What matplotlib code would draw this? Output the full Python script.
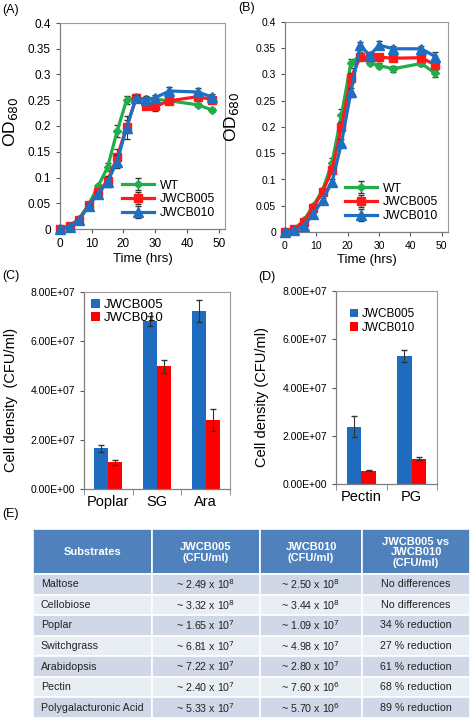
import matplotlib
matplotlib.use("Agg")
import matplotlib.pyplot as plt
import numpy as np
from matplotlib.patches import Rectangle
from matplotlib.ticker import FuncFormatter

plt.rcParams['font.family'] = ['Liberation Sans', 'DejaVu Sans']

# ---- growth curves (A: one substrate, B: another) ----
hours = [0, 3, 6, 9, 12, 15, 18, 21, 24, 27, 30, 34.5, 43.5, 48]

a_wt = [0, 0.006, 0.02, 0.047, 0.083, 0.12, 0.19, 0.251, 0.255, 0.252, 0.252, 0.249, 0.241, 0.231]
a_005 = [0, 0.006, 0.018, 0.046, 0.071, 0.094, 0.139, 0.199, 0.254, 0.239, 0.238, 0.249, 0.257, 0.251]
a_010 = [0, 0.004, 0.017, 0.045, 0.068, 0.092, 0.131, 0.197, 0.255, 0.251, 0.255, 0.268, 0.266, 0.256]
a_wt_err = [0, 0, 0.002, 0.003, 0.004, 0.008, 0.012, 0.008, 0.005, 0.004, 0.004, 0.004, 0.004, 0.004]
a_005_err = [0, 0, 0.002, 0.003, 0.005, 0.008, 0.016, 0.012, 0.008, 0.006, 0.009, 0.005, 0.006, 0.006]
a_010_err = [0, 0, 0.002, 0.003, 0.004, 0.01, 0.012, 0.022, 0.006, 0.007, 0.005, 0.007, 0.007, 0.007]

b_wt = [0, 0.006, 0.022, 0.05, 0.08, 0.132, 0.223, 0.321, 0.337, 0.322, 0.317, 0.311, 0.321, 0.302]
b_005 = [0, 0.006, 0.02, 0.046, 0.077, 0.118, 0.2, 0.293, 0.333, 0.333, 0.333, 0.331, 0.332, 0.318]
b_010 = [0, 0.003, 0.012, 0.034, 0.061, 0.095, 0.169, 0.266, 0.356, 0.336, 0.356, 0.349, 0.349, 0.334]
b_wt_err = [0, 0, 0.002, 0.003, 0.004, 0.008, 0.012, 0.008, 0.005, 0.004, 0.004, 0.006, 0.005, 0.006]
b_005_err = [0, 0, 0.002, 0.003, 0.004, 0.006, 0.01, 0.01, 0.006, 0.005, 0.005, 0.005, 0.005, 0.006]
b_010_err = [0, 0, 0.002, 0.003, 0.004, 0.006, 0.008, 0.008, 0.006, 0.006, 0.008, 0.005, 0.005, 0.008]

# ---- cell density bars ----
c_cats = ['Poplar', 'SG', 'Ara']
c_005 = [1.65e7, 6.81e7, 7.22e7]
c_010 = [1.09e7, 4.98e7, 2.80e7]
c_005_err = [0.15e7, 0.2e7, 0.45e7]
c_010_err = [0.1e7, 0.25e7, 0.45e7]

d_cats = ['Pectin', 'PG']
d_005 = [2.38e7, 5.3e7]
d_010 = [0.54e7, 1.05e7]
d_005_err = [0.42e7, 0.25e7]
d_010_err = [0.02e7, 0.05e7]

# ---- table ----
substrates = ['Maltose', 'Cellobiose', 'Poplar', 'Switchgrass', 'Arabidopsis',
              'Pectin', 'Polygalacturonic Acid']
jw005_mant = ['2.49', '3.32', '1.65', '6.81', '7.22', '2.40', '5.33']
jw005_exp = [8, 8, 7, 7, 7, 7, 7]
jw010_mant = ['2.50', '3.44', '1.09', '4.98', '2.80', '7.60', '5.70']
jw010_exp = [8, 8, 7, 7, 7, 6, 6]
comparison = ['No differences', 'No differences', '34 % reduction', '27 % reduction',
              '61 % reduction', '68 % reduction', '89 % reduction']
headers = ['Substrates', 'JWCB005\n(CFU/ml)', 'JWCB010\n(CFU/ml)',
           'JWCB005 vs\nJWCB010\n(CFU/ml)']

GREEN = '#1fae4a'
RED = '#ff1a1a'
BLUE = '#1f6fc0'
BAR_BLUE = '#1f6bbf'
BAR_RED = '#ff0000'

W, H = 472, 720
fig = plt.figure(figsize=(W / 100, H / 100), dpi=100)


def frac(l, t, r, b):
    return [l / W, 1 - b / H, (r - l) / W, (b - t) / H]


def style_box(ax):
    for s in ['top', 'right']:
        ax.spines[s].set_color('#9a9a9a')
        ax.spines[s].set_linewidth(0.8)
    for s in ['left', 'bottom']:
        ax.spines[s].set_color('#7f7f7f')
        ax.spines[s].set_linewidth(0.9)
    ax.tick_params(colors='#555555', width=0.8, length=3, labelcolor='black')


def growth(ax, wt, s005, s010, e_wt, e005, e010, tick_fs):
    series = [(wt, e_wt, GREEN, 'D', 3.8, 'WT'),
              (s005, e005, RED, 's', 6.2, 'JWCB005'),
              (s010, e010, BLUE, '^', 6.5, 'JWCB010')]
    for k, (vals, err, col, mk, ms, lab) in enumerate(series):
        cont = ax.errorbar(hours, vals, yerr=err, color=col, marker=mk, ms=ms, lw=2.3,
                           ecolor='#333333', elinewidth=0.8, capsize=2, label=lab,
                           zorder=3 + k)
        for art in cont.get_children():
            art.set_clip_on(False)
    ax.set_xlim(0, 52)
    ax.set_ylim(0, 0.4)
    ax.set_xticks(range(0, 51, 10))
    ax.set_yticks(np.arange(0, 0.401, 0.05))
    ax.yaxis.set_major_formatter(FuncFormatter(lambda v, p: '%g' % round(v, 2)))
    ax.tick_params(labelsize=tick_fs)
    style_box(ax)
    ax.set_xlabel('Time (hrs)', fontsize=9.5, labelpad=2)
    ax.set_ylabel('OD$_{680}$', fontsize=12.5, labelpad=4)
    ax.legend(loc='lower right', fontsize=8.8, frameon=False, handlelength=2.6,
              handletextpad=0.5, labelspacing=0.15, borderaxespad=0.4)


axA = fig.add_axes(frac(60, 23, 225, 229))
growth(axA, a_wt, a_005, a_010, a_wt_err, a_005_err, a_010_err, 8.5)
axA.yaxis.set_label_coords(-0.24, 0.52)

axB = fig.add_axes(frac(285, 22, 448, 232))
growth(axB, b_wt, b_005, b_010, b_wt_err, b_005_err, b_010_err, 7.5)
axB.yaxis.set_label_coords(-0.27, 0.55)


def sci(v, p):
    if v <= 0:
        return '0.00E+00'
    e = int(np.floor(np.log10(v)))
    return '%.2fE+%02d' % (v / 10 ** e, e)


def bars(ax, cats, s005, s010, e005, e010, leg_fs, leg_anchor):
    x = np.arange(len(cats))
    w = 0.29
    ax.bar(x - w / 2, s005, w, color=BAR_BLUE, label='JWCB005',
           yerr=e005, error_kw=dict(ecolor='#333333', elinewidth=0.8, capsize=2))
    ax.bar(x + w / 2, s010, w, color=BAR_RED, label='JWCB010',
           yerr=e010, error_kw=dict(ecolor='#333333', elinewidth=0.8, capsize=2))
    ax.set_xlim(-0.5, len(cats) - 0.5)
    ax.set_ylim(0, 8e7)
    ax.set_yticks(np.arange(0, 8.01e7, 2e7))
    ax.yaxis.set_major_formatter(FuncFormatter(sci))
    ax.set_xticks(x)
    ax.set_xticklabels(cats, fontsize=10.5)
    ax.set_xticks(np.arange(-0.5, len(cats), 1), minor=True)
    style_box(ax)
    ax.tick_params(axis='x', which='major', length=0, pad=4)
    ax.tick_params(axis='x', which='minor', length=4, color='#7f7f7f')
    ax.tick_params(axis='y', labelsize=7.5)
    ax.legend(loc='upper left', bbox_to_anchor=leg_anchor, fontsize=leg_fs, frameon=False,
              handlelength=0.7, handleheight=0.7, handletextpad=0.3, labelspacing=0.1,
              borderaxespad=0.1)


axC = fig.add_axes(frac(84, 292, 230, 489))
bars(axC, c_cats, c_005, c_010, c_005_err, c_010_err, 9.5, (0.0, 1.0))
axC.set_ylabel('Cell density  (CFU/ml)', fontsize=10.5)
axC.yaxis.set_label_coords(-0.455, 0.45)

axD = fig.add_axes(frac(336, 291, 437, 484))
bars(axD, d_cats, d_005, d_010, d_005_err, d_010_err, 8.5, (0.08, 0.94))
axD.set_ylabel('Cell density (CFU/ml)', fontsize=10.5)
axD.yaxis.set_label_coords(-0.66, 0.45)

# panel letters
fig.text(2 / W, 1 - 10 / H, '(A)', fontsize=9, va='center')
fig.text(238 / W, 1 - 8 / H, '(B)', fontsize=9, va='center')
fig.text(2 / W, 1 - 276 / H, '(C)', fontsize=9, va='center')
fig.text(258 / W, 1 - 277 / H, '(D)', fontsize=9, va='center')
fig.text(2 / W, 1 - 514 / H, '(E)', fontsize=9, va='center')

# ---- table (E) ----
tax = fig.add_axes(frac(33, 529, 470, 718))
tax.set_xlim(0, 1)
tax.set_ylim(1, 0)
tax.axis('off')
col_edges = np.array([0, 119, 227, 329, 437]) / 437
head_h = 45 / 189
row_h = (1 - head_h) / len(substrates)
row_colors = ['#d0d8e8', '#e9edf4']

for j, h in enumerate(headers):
    x0, x1 = col_edges[j], col_edges[j + 1]
    tax.add_patch(Rectangle((x0, 0), x1 - x0, head_h, facecolor='#4f81bd',
                            edgecolor='white', lw=1.2))
    tax.text((x0 + x1) / 2, head_h / 2 + 0.005, h, ha='center', va='center',
             color='white', fontsize=8, fontweight='bold', linespacing=1.1)

for i, sub in enumerate(substrates):
    y0 = head_h + i * row_h
    cells = [sub,
             '~ %s x 10$^{%d}$' % (jw005_mant[i], jw005_exp[i]),
             '~ %s x 10$^{%d}$' % (jw010_mant[i], jw010_exp[i]),
             comparison[i]]
    for j, c in enumerate(cells):
        x0, x1 = col_edges[j], col_edges[j + 1]
        tax.add_patch(Rectangle((x0, y0), x1 - x0, row_h, facecolor=row_colors[i % 2],
                                edgecolor='white', lw=1.2))
        if j == 0:
            tax.text(x0 + 0.018, y0 + row_h / 2, c, ha='left', va='center',
                     fontsize=7.7, color='#222222')
        else:
            tax.text((x0 + x1) / 2, y0 + row_h / 2, c, ha='center', va='center',
                     fontsize=7.7, color='#222222')

fig.savefig('out.png', dpi=100)
